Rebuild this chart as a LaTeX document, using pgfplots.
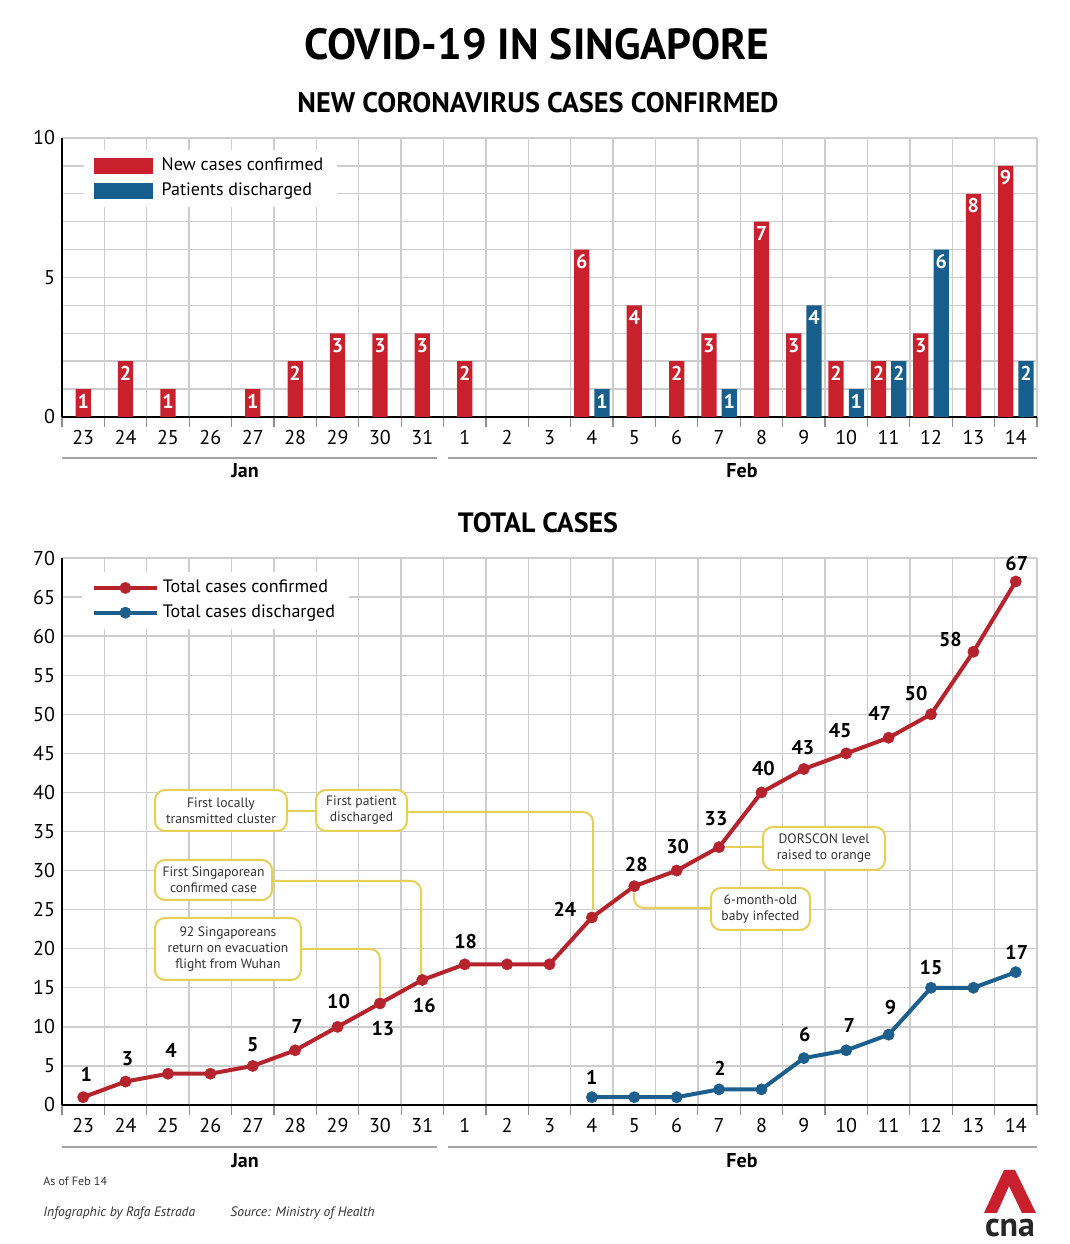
\documentclass[border=0pt]{standalone}
\usepackage{fontspec}
\setmainfont{PT Sans}
\usepackage{pgfplots}
\pgfplotsset{compat=1.18}
\usepackage{pgfplotstable}
\definecolor{cnared}{HTML}{C8202D}
\definecolor{cnablue}{HTML}{165E8C}
\definecolor{linered}{HTML}{B5232D}
\definecolor{lineblue}{HTML}{1C5F8C}
\definecolor{gridgray}{HTML}{CDCDCD}
\definecolor{callout}{HTML}{E6CF55}
\definecolor{txtgray}{HTML}{333333}

% new cases, days with only a red bar (x = day index, 0 = 23 Jan)
\pgfplotstableread{
x y
0 1
1 2
2 1
4 1
5 2
6 3
7 3
8 3
9 2
13 4
14 2
16 7
21 8
}\newsolo
% new cases, days that also have discharges (bar drawn left of centre)
\pgfplotstableread{
x y
11.76 6
14.76 3
16.76 3
17.76 2
18.76 2
19.76 3
21.76 9
}\newpaired
% patients discharged (bar drawn right of centre)
\pgfplotstableread{
x y
12.24 1
15.24 1
17.24 4
18.24 1
19.24 2
20.24 6
22.24 2
}\discharged
\pgfplotstableread{
x y show dx dy
0 1 1 1.5 11.5
1 3 1 1 11.3
2 4 1 1.5 11.8
3 4 0 0 0
4 5 1 0 10.5
5 7 1 1 12
6 10 1 0.5 12.5
7 13 1 1.5 -12.8
8 16 1 1 -13
9 18 1 0.5 11.2
10 18 0 0 0
11 18 0 0 0
12 24 1 -13.5 4.2
13 28 1 1 11
14 30 1 0.5 11.8
15 33 1 -1.5 14
16 40 1 1 12.2
17 43 1 -0.5 10.5
18 45 1 -3 11.2
19 47 1 -4.5 12.3
20 50 1 -7.5 10.5
21 58 1 -11.5 6
22 67 1 0.5 9.2
}\totalconf
\pgfplotstableread{
x y show dx dy
12 1 1 0 10
13 1 0 0 0
14 1 0 0 0
15 2 1 0.5 10.5
16 2 0 0 0
17 6 1 0.5 12
18 7 1 1.5 12.5
19 9 1 1 13.5
20 15 1 0 10
21 15 0 0 0
22 17 1 0.5 10
}\totaldis

\pgfplotsset{
  cnabase/.style={
    scale only axis, width=487.5pt,
    xmin=-0.5, xmax=22.5,
    axis x line=bottom, axis y line=left,
    axis line style={-},
    x axis line style={line width=1.2pt, black},
    y axis line style={line width=0.8pt, black},
    tick align=outside,
    xtick={0,...,22},
    xticklabels={23,24,25,26,27,28,29,30,31,1,2,3,4,5,6,7,8,9,10,11,12,13,14},
    minor xtick={-0.5,0.5,1.5,2.5,3.5,4.5,5.5,6.5,7.5,8.5,9.5,10.5,11.5,12.5,13.5,14.5,15.5,16.5,17.5,18.5,19.5,20.5,21.5,22.5},
    major tick length=0pt,
    minor tick length=5pt,
    every minor tick/.append style={gridgray!70!black, line width=0.6pt},
    xminorgrids=true, xmajorgrids=false, ymajorgrids=true,
    minor grid style={gridgray, line width=0.7pt},
    major grid style={gridgray, line width=0.7pt},
    xticklabel style={font=\fontsize{10}{12}\selectfont, yshift=-3pt},
    yticklabel style={font=\fontsize{10}{12}\selectfont},
    /pgf/number format/assume math mode=true,
  },
  bartxt/.style={nodes near coords,
    every node near coord/.append style={anchor=north, text=white,
      font=\bfseries\fontsize{10}{10}\selectfont, inner sep=2.2pt}},
  linetxt/.style={
    nodes near coords,
    point meta=y,
    visualization depends on={\thisrow{show} \as \myshow},
    visualization depends on={\thisrow{dx} \as \mydx},
    visualization depends on={\thisrow{dy} \as \mydy},
    every node near coord/.append style={anchor=center, xshift=\mydx pt, yshift=\mydy pt,
      text=black, text opacity=\myshow, font=\bfseries\fontsize{10}{10}\selectfont, inner sep=0pt}},
}
\tikzset{
  callbox/.style={draw=callout, line width=1pt, rounded corners=5pt, fill=white,
    align=center, font=\fontsize{6.8}{8}\selectfont, text=txtgray, inner sep=1pt},
}

\begin{document}
\begin{tikzpicture}
\path[use as bounding box] (0,0) rectangle (535pt,622pt);

% ---------- top: new cases ----------
\begin{axis}[cnabase,
  at={(31pt,413.5pt)}, anchor=south west, height=139.5pt,
  ymin=0, ymax=10, ytick={0,...,10},
  yticklabels={0,,,,,5,,,,,10},
  legend style={at={(0.022,0.958)}, anchor=north west, draw=none, fill=white,
    font=\fontsize{9}{11}\selectfont, cells={anchor=west}, inner xsep=5pt, inner ysep=2pt,
    row sep=0.5pt},
]
\addlegendimage{legend image code/.code={\fill[cnared] (0pt,-3.7pt) rectangle (29pt,3.7pt); \path (31.5pt,0pt);}}
\addlegendentry{New cases confirmed}
\addlegendimage{legend image code/.code={\fill[cnablue] (0pt,-3.7pt) rectangle (29pt,3.7pt); \path (31.5pt,0pt);}}
\addlegendentry{Patients discharged}
\addplot[ybar, bar width=0.36, fill=cnared, draw=none, bartxt, forget plot] table[x=x,y=y] {\newsolo};
\addplot[ybar, bar width=0.36, fill=cnared, draw=none, bartxt, forget plot] table[x=x,y=y] {\newpaired};
\addplot[ybar, bar width=0.36, fill=cnablue, draw=none, bartxt, forget plot] table[x=x,y=y] {\discharged};
\end{axis}

% ---------- bottom: totals ----------
\begin{axis}[cnabase,
  at={(31pt,69.5pt)}, anchor=south west, height=273.5pt,
  ymin=0, ymax=70, ytick={0,5,...,70},
  legend style={at={(0.02,0.975)}, anchor=north west, draw=none, fill=white,
    font=\fontsize{9}{11}\selectfont, cells={anchor=west}, inner xsep=5pt, inner ysep=2pt,
    row sep=0.5pt},
  legend image code/.code={\draw[mark repeat=2,mark phase=2,#1] plot coordinates {(0pt,0pt) (15.75pt,0pt) (31.5pt,0pt)};},
]
\addplot[linered, line width=2pt, mark=*, mark size=2.8pt,
  mark options={solid, fill=linered, draw=linered, line width=0.3pt}, linetxt]
  table[x=x,y=y] {\totalconf};
\addlegendentry{Total cases confirmed}
\addplot[lineblue, line width=2pt, mark=*, mark size=2.8pt,
  mark options={solid, fill=lineblue, draw=lineblue, line width=0.3pt}, linetxt]
  table[x=x,y=y] {\totaldis};
\addlegendentry{Total cases discharged}
\end{axis}

% ---------- decorations in image pixel coordinates ----------
\begin{scope}[yshift=622pt, x=0.5pt, y=-0.5pt]
  % titles
  \node at (537,44) {\resizebox{232.5pt}{!}{\bfseries COVID-19 IN SINGAPORE}};
  \node at (538,103) {\resizebox{240.5pt}{!}{\bfseries NEW CORONAVIRUS CASES CONFIRMED}};
  \node at (538,523) {\resizebox{80pt}{!}{\bfseries TOTAL CASES}};
  % month bands
  \foreach \yy/\ty in {458/471, 1147/1161} {
    \draw[gridgray!80!black, line width=1pt] (62,\yy) -- (437,\yy);
    \draw[gridgray!80!black, line width=1pt] (448,\yy) -- (1037,\yy);
    \node[font=\bfseries\fontsize{10}{12}\selectfont] at (245,\ty) {Jan};
    \node[font=\bfseries\fontsize{10}{12}\selectfont] at (742,\ty) {Feb};
  }
  % callout connectors
  \draw[callout, line width=1pt] (287,811) -- (316,811);
  \draw[callout, line width=1pt, rounded corners=5pt, shorten >=3pt] (407,812) -| (593,916);
  \draw[callout, line width=1pt, rounded corners=5pt, shorten >=3pt] (272,881) -| (421,980);
  \draw[callout, line width=1pt, rounded corners=5pt, shorten >=3pt] (301,949) -| (380,1003);
  \draw[callout, line width=1pt, shorten <=3pt] (720,847) -- (763,847);
  \draw[callout, line width=1pt, rounded corners=5pt, shorten <=3pt] (634,887) |- (711,908);
  % callout boxes
  \node[callbox, minimum width=66pt, minimum height=20.5pt] at (221,810.5) {First locally\\transmitted cluster};
  \node[callbox, minimum width=45.5pt, minimum height=20.5pt] at (361.5,810.5) {First patient\\discharged};
  \node[callbox, minimum width=58.5pt, minimum height=20pt] at (213.5,880) {First Singaporean\\confirmed case};
  \node[callbox, minimum width=73pt, minimum height=31pt] at (228,949) {92 Singaporeans\\return on evacuation\\flight from Wuhan};
  \node[callbox, minimum width=61pt, minimum height=21.5pt] at (824,848.5) {DORSCON level\\raised to orange};
  \node[callbox, minimum width=49.5pt, minimum height=21pt] at (760.5,909) {6-month-old\\baby infected};
  % footer
  \node[anchor=west, font=\fontsize{6}{7}\selectfont, text=txtgray, inner sep=0pt] at (43,1181) {As of Feb 14};
  \node[anchor=west, font=\itshape\fontsize{6.8}{8}\selectfont, text=txtgray, inner sep=0pt] at (43,1213) {Infographic by Rafa Estrada};
  \node[anchor=west, font=\itshape\fontsize{6.8}{8}\selectfont, text=txtgray, inner sep=0pt] at (230,1213) {Source: Ministry of Health};
  % logo
  \fill[cnared] (984,1213) -- (1004,1170) -- (1015,1170) -- (1036,1213) -- (1022,1213) -- (1009,1186) -- (997,1213) -- cycle;
  \node[text=black!85] at (1010,1228) {\resizebox{25pt}{!}{\bfseries cna}};
\end{scope}
\end{tikzpicture}
\end{document}
